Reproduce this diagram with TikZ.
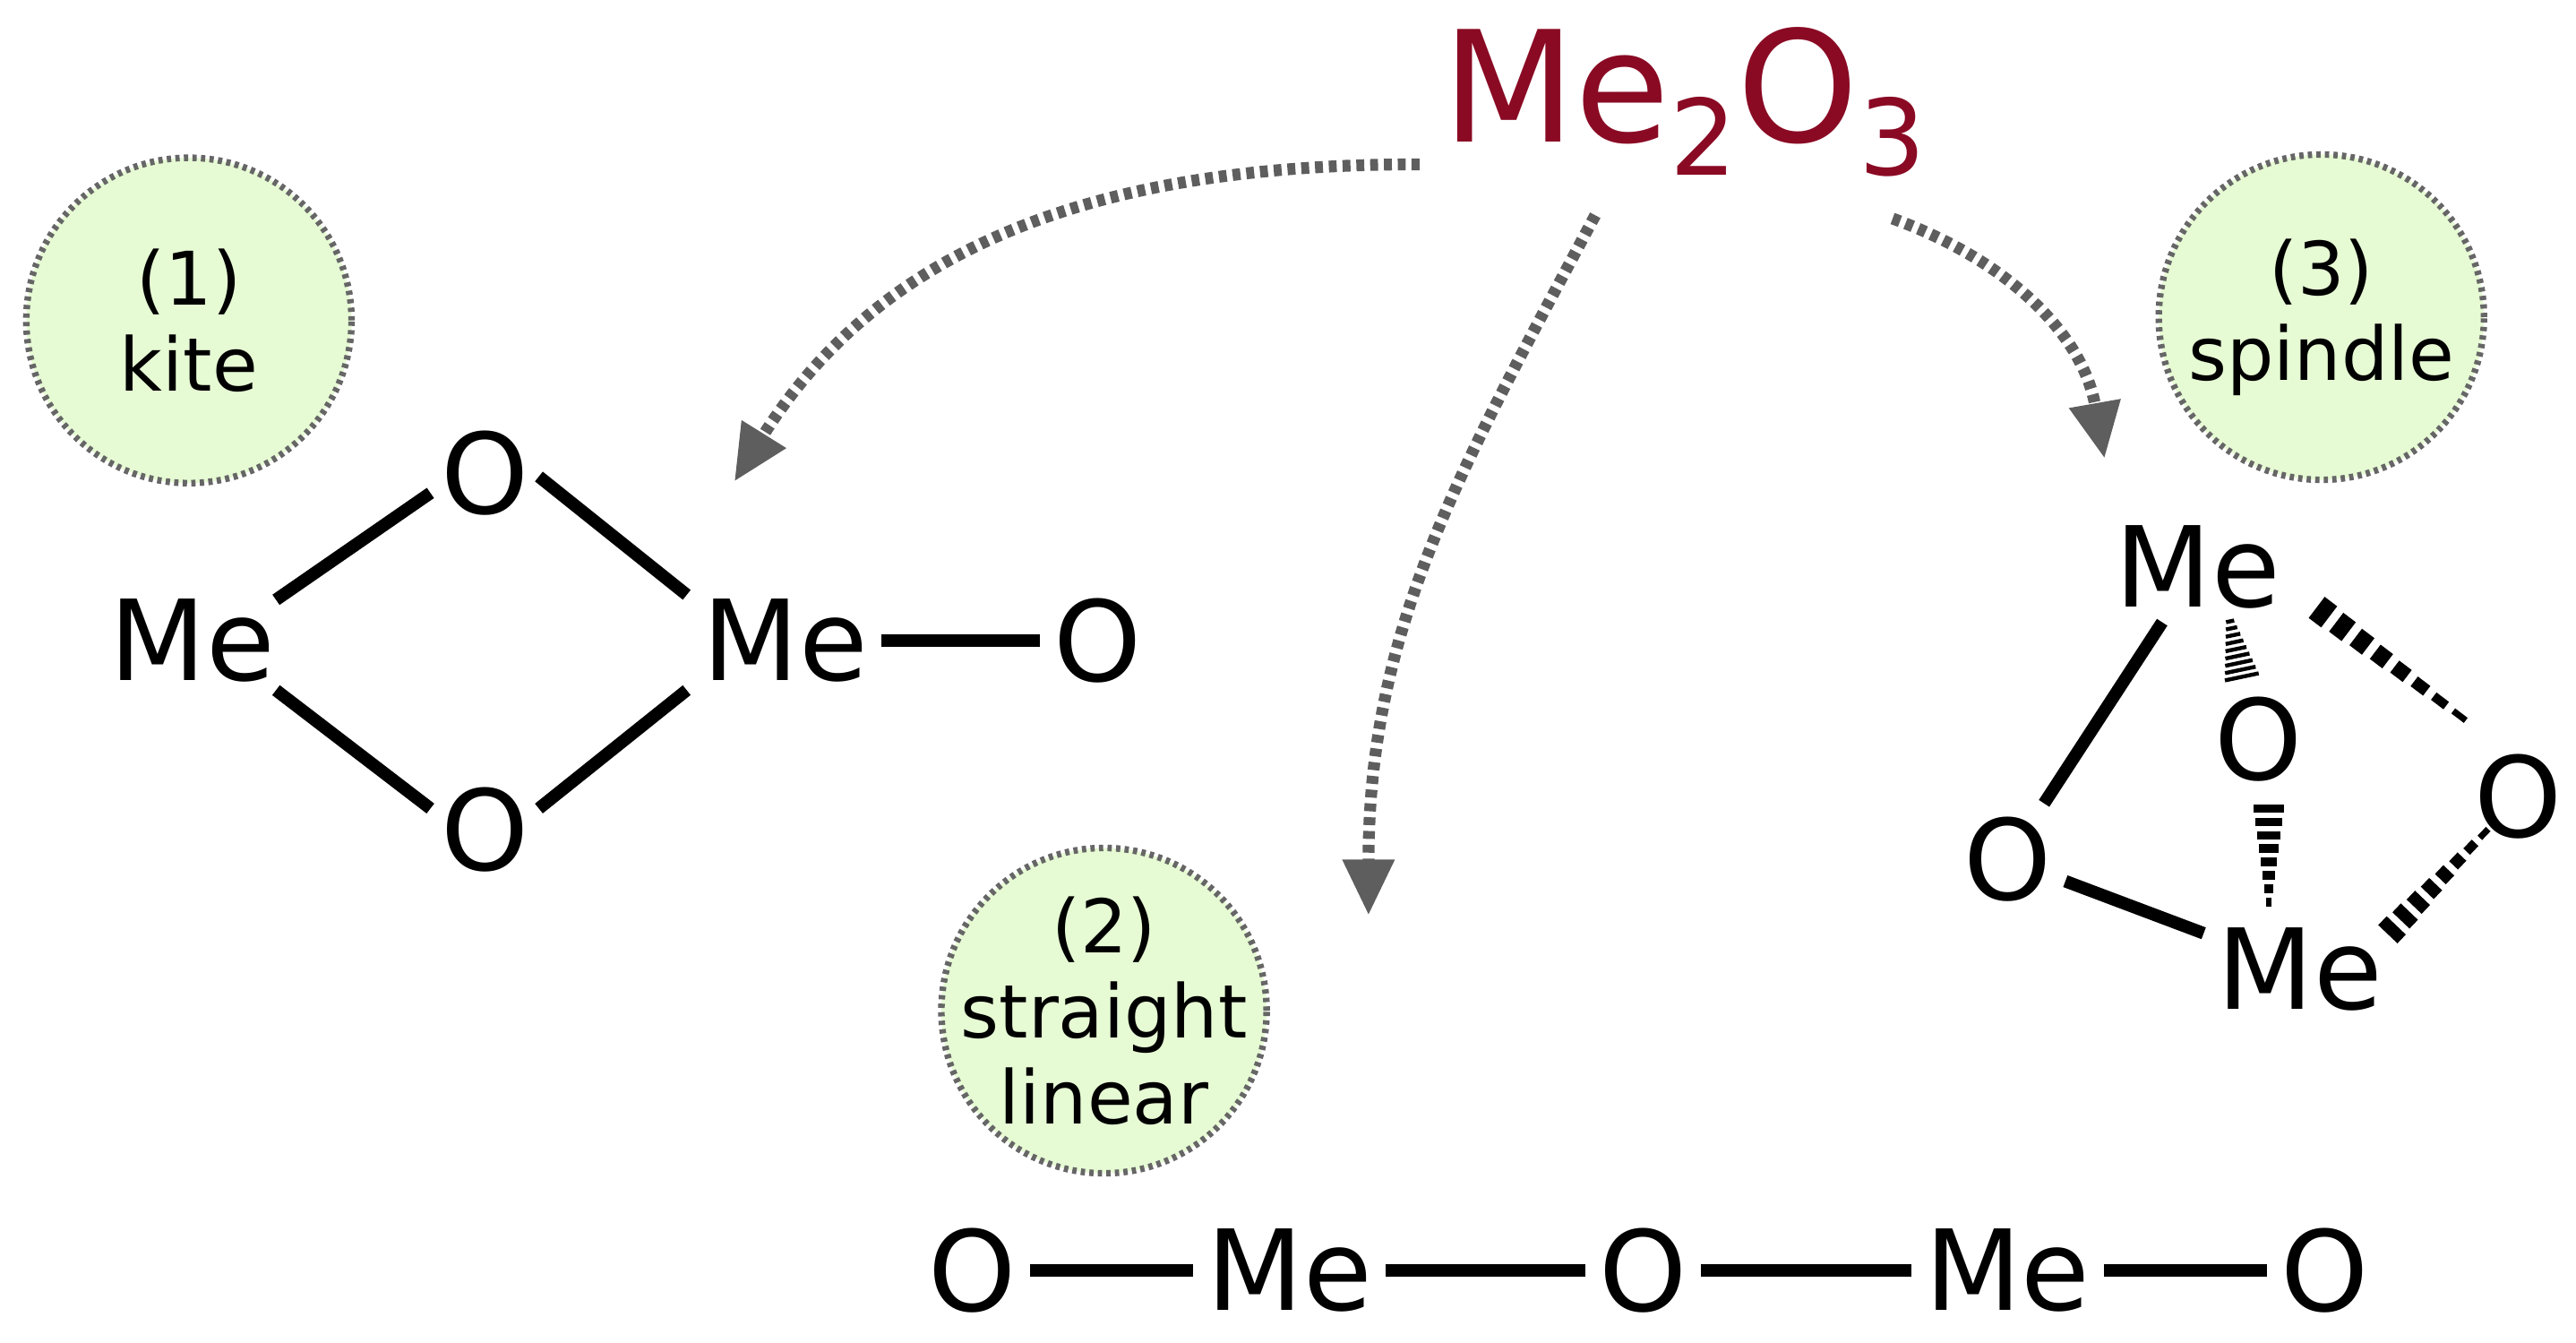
\documentclass[tikz,border=0pt]{standalone}
\usepackage{fontspec}
\setmainfont{DejaVu Sans}
\usetikzlibrary{arrows.meta,calc}
\definecolor{lgreen}{HTML}{E6FAD4}
\definecolor{cgray}{HTML}{666666}
\definecolor{agray}{HTML}{5E5E5E}
\definecolor{wine}{HTML}{8A0A24}
\newcommand\blockwedge[5]{%
 \foreach \k in {1,...,#3}{
  \pgfmathsetmacro\mytt{(\k-0.5)/#3}
  \pgfmathsetmacro\mya{\mytt-0.32/#3}
  \pgfmathsetmacro\myb{\mytt+0.32/#3}
  \pgfmathsetmacro\myw{#4+(#5-#4)*\mytt}
  \draw[line width=\myw pt] ($(#1)!\mya!(#2)$) -- ($(#1)!\myb!(#2)$);}}
\newcommand\hashwedge[5]{%
 \foreach \k in {1,...,#3}{
  \pgfmathsetmacro\mytt{(\k-0.5)/#3}
  \pgfmathsetmacro\myh{(#5+(#4-#5)*\mytt)/2}
  \coordinate (hp) at ($(#1)!\mytt!(#2)$);
  \draw[line width=1.2pt] ($(hp)!\myh pt!90:(#2)$) -- ($(hp)!\myh pt!-90:(#2)$);}}
\begin{document}
\begin{tikzpicture}[x=0.5pt,y=-0.5pt,
  atom/.style={font=\fontsize{34}{34}\selectfont,inner sep=4pt},
  bond/.style={line width=3.8pt},
  tag/.style={circle,fill=lgreen,draw=cgray,line width=2pt,dash pattern=on 1.3pt off 1.3pt,
     minimum size=99pt,inner sep=0pt},
  taglabel/.style={align=center,inner sep=0pt,font=\fontsize{22.5}{26}\selectfont},
  flow/.style={draw=agray,line width=3.6pt,dash pattern=on 2.4pt off 1.8pt,
     -{Triangle[length=17pt,width=15pt,fill=agray]}}]
\useasboundingbox (0,0) rectangle (1568,817);
% title
\node[text=wine,font=\fontsize{47}{47}\selectfont] (title) at (1025,62)
  {Me\raisebox{-10pt}{\fontsize{32}{32}\selectfont 2}O\raisebox{-10pt}{\fontsize{32}{32}\selectfont 3}};
% tags
\node[tag] (t1) at (115,195) {};
\node[taglabel] (t1l) at (t1) {(1)\\kite};
\node[tag] (t2) at (672,615) {};
\node[taglabel] (t2l) at (t2) {(2)\\straight\\linear};
\node[tag] (t3) at (1413,193) {};
\node[taglabel] (t3l) at (t3) {(3)\\spindle};
% kite
\node[atom] (k1) at (117,390) {Me};
\node[atom] (k2) at (295,288) {O};
\node[atom] (k3) at (295,505) {O};
\node[atom] (k4) at (478,390) {Me};
\node[atom] (k5) at (668,390) {O};
\draw[bond] ($(k1)+(51,-25)$) -- ($(k2)+(-33,12)$);
\draw[bond] ($(k1)+(51,30)$) -- ($(k3)+(-33,-13)$);
\draw[bond] ($(k2)+(33,2)$) -- ($(k4)+(-60,-28)$);
\draw[bond] ($(k3)+(33,-13)$) -- ($(k4)+(-60,30)$);
\draw[bond] (k4) -- (k5);
% linear
\node[atom] (l1) at (592,773) {O};
\node[atom] (l2) at (785,773) {Me};
\node[atom] (l3) at (1000,773) {O};
\node[atom] (l4) at (1222,773) {Me};
\node[atom] (l5) at (1415,773) {O};
\draw[bond] (l1) -- (l2);
\draw[bond] (l2) -- (l3);
\draw[bond] (l3) -- (l4);
\draw[bond] (l4) -- (l5);
% spindle
\node[atom] (s1) at (1338,345) {Me};
\node[atom] (s2) at (1375,450) {O};
\node[atom] (s3) at (1533,485) {O};
\node[atom] (s4) at (1222,523) {O};
\node[atom] (s5) at (1400,590) {Me};
\draw[bond] (s1) -- (s4);
\draw[bond] (s4) -- (s5);
\coordinate (w1a) at (1357,376); \coordinate (w1b) at (1365,414);
\coordinate (w2a) at (1381,488); \coordinate (w2b) at (1381,553);
\coordinate (w3a) at (1408,368); \coordinate (w3b) at (1503,440);
\coordinate (w4a) at (1452,570); \coordinate (w4b) at (1516,503);
\hashwedge{w1a}{w1b}{9}{11}{2}
\blockwedge{w2a}{w2b}{8}{10}{1.2}
\blockwedge{w3a}{w3b}{8}{8.5}{1.5}
\blockwedge{w4a}{w4b}{8}{8.5}{1.5}
% arrows
\coordinate (a1s) at (864,100); \coordinate (a1e) at (447,293);
\coordinate (a2s) at (971,131); \coordinate (a2e) at (833,557);
\coordinate (a3s) at (1152,133); \coordinate (a3e) at (1281,279);
\draw[flow] (a1s) to[out=180,in=58] (a1e);
\draw[flow] (a2s) to[out=-118,in=90] (a2e);
\draw[flow] (a3s) to[out=-20,in=100] (a3e);
\end{tikzpicture}
\end{document}
